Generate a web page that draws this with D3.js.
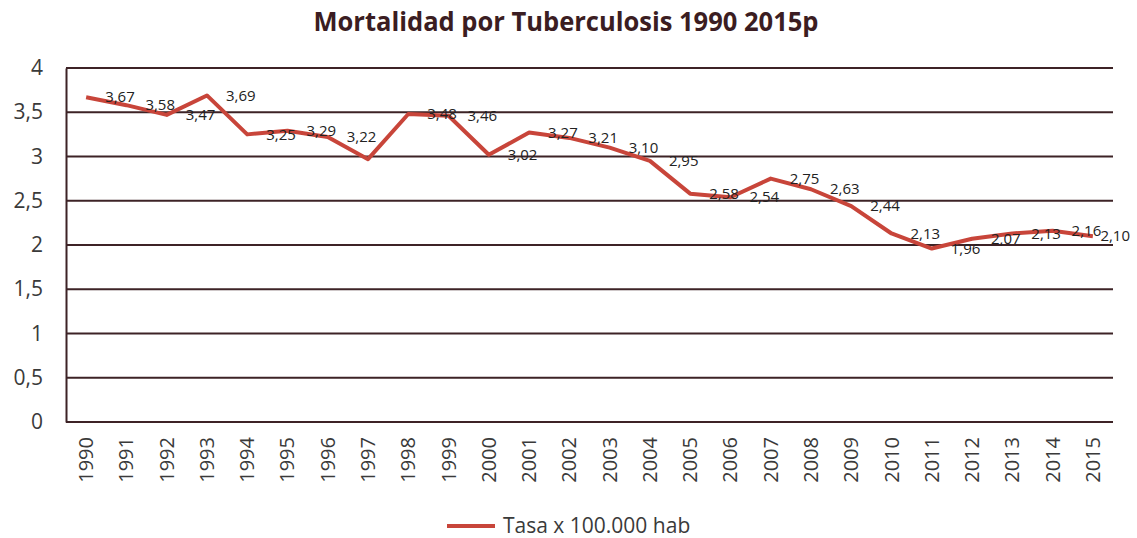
<!DOCTYPE html>
<html>
<head>
<meta charset="utf-8">
<script src="https://cdn.jsdelivr.net/npm/d3@7"></script>
<style>
  body { margin: 0; background: #fff; }
  svg { display: block; }
</style>
</head>
<body>
<svg width="1137" height="538"></svg>
<script>
// data
var years = ['1990', '1991', '1992', '1993', '1994', '1995', '1996', '1997', '1998', '1999',
  '2000', '2001', '2002', '2003', '2004', '2005', '2006', '2007', '2008', '2009',
  '2010', '2011', '2012', '2013', '2014', '2015'];
var tasa = [3.67, 3.58, 3.47, 3.69, 3.25, 3.29, 3.22, 2.97, 3.48, 3.46,
  3.02, 3.27, 3.21, 3.10, 2.95, 2.58, 2.54, 2.75, 2.63, 2.44,
  2.13, 1.96, 2.07, 2.13, 2.16, 2.10];
var yTicks = [0, 0.5, 1, 1.5, 2, 2.5, 3, 3.5, 4];
var hiddenLabels = ['1997'];
var title = 'Mortalidad por Tuberculosis 1990 2015p';
var seriesName = 'Tasa x 100.000 hab';

var svg = d3.select('svg');
var plotLeft = 66, plotRight = 1113, plotTop = 68, plotBottom = 422;
var gridColor = '#3d2326';
var lineColor = '#c8453a';
var textColor = '#3a3a3a';
var font = 'Open Sans, sans-serif';

var x = d3.scaleBand().domain(years).range([plotLeft, plotRight]);
var y = d3.scaleLinear().domain([0, 4]).range([plotBottom, plotTop]);

var fmt = function(v) { return d3.format('.2f')(v).replace('.', ','); };
var fmtTick = function(v) { return String(v).replace('.', ','); };

var points = years.map(function(yr, i) { return { year: yr, value: tasa[i] }; });

// title
svg.append('text')
  .attr('x', 566)
  .attr('y', 31)
  .attr('text-anchor', 'middle')
  .attr('font-family', font)
  .attr('font-weight', 'bold')
  .attr('font-size', 27)
  .attr('textLength', 505)
  .attr('lengthAdjust', 'spacingAndGlyphs')
  .attr('fill', '#3b1d22')
  .text(title);

// gridlines
svg.append('g')
  .selectAll('line')
  .data(yTicks)
  .enter().append('line')
  .attr('x1', plotLeft)
  .attr('x2', plotRight)
  .attr('y1', function(d) { return y(d); })
  .attr('y2', function(d) { return y(d); })
  .attr('stroke', gridColor)
  .attr('stroke-width', 2);

// y axis
var yAxis = svg.append('g')
  .attr('transform', 'translate(' + plotLeft + ',0)')
  .call(d3.axisLeft(y).tickValues(yTicks).tickSize(0).tickPadding(23).tickFormat(fmtTick));
yAxis.select('.domain').attr('stroke', gridColor).attr('stroke-width', 2);
yAxis.selectAll('text')
  .attr('font-family', font)
  .attr('font-size', 21)
  .attr('fill', textColor);

// x axis
var xAxis = svg.append('g')
  .attr('transform', 'translate(0,' + plotBottom + ')')
  .call(d3.axisBottom(x).tickSize(0));
xAxis.select('.domain').remove();
xAxis.selectAll('text')
  .attr('font-family', font)
  .attr('font-size', 20)
  .attr('fill', textColor)
  .attr('text-anchor', 'end')
  .attr('transform', 'rotate(-90)')
  .attr('x', -15)
  .attr('y', 0)
  .attr('dy', '0.35em');

// line
var line = d3.line()
  .x(function(d) { return x(d.year) + x.bandwidth() / 2; })
  .y(function(d) { return y(d.value); });

svg.append('path')
  .datum(points)
  .attr('d', line)
  .attr('fill', 'none')
  .attr('stroke', lineColor)
  .attr('stroke-width', 4)
  .attr('stroke-linejoin', 'round');

// data labels, right of each point, pushed back in at the right edge
var labels = svg.append('g')
  .selectAll('text')
  .data(points.filter(function(d) { return hiddenLabels.indexOf(d.year) < 0; }))
  .enter().append('text')
  .attr('y', function(d) { return y(d.value); })
  .attr('dy', '0.35em')
  .attr('font-family', font)
  .attr('font-size', 15)
  .attr('fill', '#222')
  .text(function(d) { return fmt(d.value); });

labels.attr('x', function(d) {
  var w = this.getComputedTextLength();
  return Math.min(x(d.year) + x.bandwidth() / 2 + 19, 1130 - w);
});

// legend
var legend = svg.append('g').attr('transform', 'translate(447,526)');
legend.append('line')
  .attr('x1', 0).attr('x2', 48)
  .attr('stroke', lineColor)
  .attr('stroke-width', 4);
legend.append('text')
  .attr('x', 56)
  .attr('dy', '0.35em')
  .attr('font-family', font)
  .attr('font-size', 21)
  .attr('fill', textColor)
  .text(seriesName);
</script>
</body>
</html>
